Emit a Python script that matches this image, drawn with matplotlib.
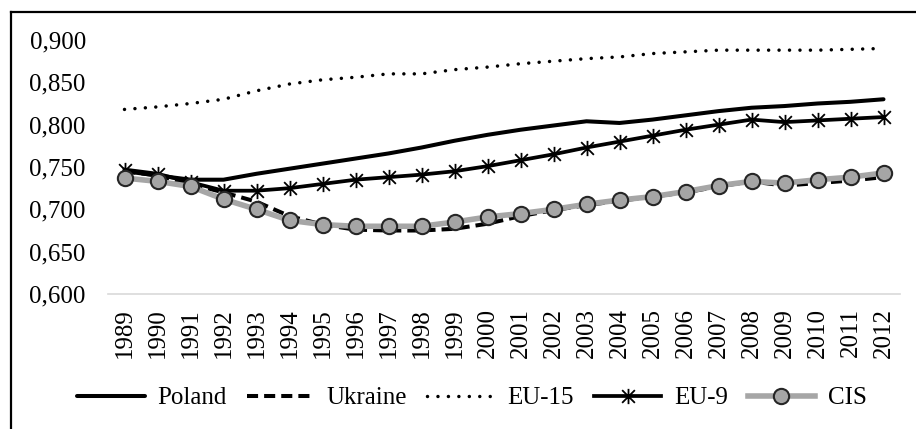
import matplotlib
matplotlib.use("Agg")
import matplotlib.pyplot as plt
from matplotlib.path import Path
from matplotlib.lines import Line2D
from matplotlib.ticker import FuncFormatter

years = [str(y) for y in range(1989, 2013)]
poland = [0.745, 0.740, 0.735, 0.735, 0.742, 0.748, 0.754, 0.760, 0.766, 0.773,
          0.781, 0.788, 0.794, 0.799, 0.804, 0.802, 0.806, 0.811, 0.816, 0.820,
          0.822, 0.825, 0.827, 0.830]
ukraine = [0.745, 0.740, 0.730, 0.720, 0.709, 0.692, 0.682, 0.676, 0.675, 0.675,
           0.677, 0.683, 0.692, 0.699, 0.705, 0.710, 0.715, 0.720, 0.727, 0.733,
           0.728, 0.731, 0.734, 0.738]
eu15 = [0.818, 0.821, 0.825, 0.830, 0.840, 0.848, 0.853, 0.856, 0.860, 0.860,
        0.865, 0.868, 0.872, 0.875, 0.878, 0.880, 0.884, 0.886, 0.888, 0.888,
        0.888, 0.888, 0.889, 0.890]
eu9 = [0.747, 0.742, 0.732, 0.722, 0.722, 0.725, 0.730, 0.735, 0.738, 0.741,
       0.745, 0.751, 0.758, 0.765, 0.773, 0.780, 0.787, 0.794, 0.800, 0.806,
       0.803, 0.805, 0.807, 0.809]
cis = [0.737, 0.733, 0.727, 0.712, 0.700, 0.687, 0.682, 0.680, 0.680, 0.680,
       0.685, 0.691, 0.695, 0.700, 0.706, 0.711, 0.715, 0.721, 0.728, 0.733,
       0.731, 0.735, 0.738, 0.743]
yticks = [0.600, 0.650, 0.700, 0.750, 0.800, 0.850, 0.900]

plt.rcParams['font.family'] = ['Liberation Serif', 'DejaVu Serif']

fig = plt.figure(figsize=(9.16, 4.29), dpi=100)
ax = fig.add_axes([108/916, 1-294/429, 792/916, 254/429])

x = list(range(len(years)))

star = Path([(-1, -1), (1, 1), (-1, 1), (1, -1), (0, -1.2), (0, 1.2)],
            [Path.MOVETO, Path.LINETO, Path.MOVETO, Path.LINETO, Path.MOVETO, Path.LINETO])

ax.plot(x, poland, color='black', lw=2.9, solid_capstyle='round', label='Poland')
ax.plot(x, ukraine, color='black', lw=2.9, dashes=(2.75, 1.5), label='Ukraine')
ax.plot(x, eu15, color='black', lw=2.5, dashes=(0.01, 3.0), dash_capstyle='round', label='EU-15')
ax.plot(x, eu9, color='black', lw=2.7, marker=star, markersize=11, markeredgewidth=1.3,
        markeredgecolor='black', markerfacecolor='none', label='EU-9')
ax.plot(x, cis, color='#A6A6A6', lw=4.0, marker='o', markersize=11, markeredgewidth=1.5,
        markeredgecolor='#262626', markerfacecolor='#A5A5A5', label='CIS')

ax.set_xlim(-0.5, len(years) - 0.5)
ax.set_ylim(0.6, 0.9)
ax.set_yticks(yticks)
ax.yaxis.set_major_formatter(FuncFormatter(lambda v, p: f"{v:.3f}".replace('.', ',')))
ax.set_xticks(x)
ax.set_xticklabels(years, rotation=90)
ax.tick_params(axis='y', length=0, pad=16, labelsize=18)
ax.tick_params(axis='x', length=0, pad=10, labelsize=18)
for s in ['top', 'right', 'left']:
    ax.spines[s].set_visible(False)
ax.spines['bottom'].set_color('#D9D9D9')
ax.spines['bottom'].set_linewidth(1.2)
for l in ax.lines:
    l.set_clip_on(False)

leg = fig.legend(loc='center', bbox_to_anchor=(472/916, 1-398/429), ncol=5, frameon=False,
                 fontsize=18, handlelength=2.7, handletextpad=0.5, columnspacing=0.8)

# outer frame (top and left edges)
fig.add_artist(Line2D([11/916, 1.0], [1-12/429, 1-12/429], color='black', lw=1.6,
                      transform=fig.transFigure))
fig.add_artist(Line2D([11/916, 11/916], [0.0, 1-12/429], color='black', lw=1.6,
                      transform=fig.transFigure))

fig.savefig('out.png', dpi=100)
